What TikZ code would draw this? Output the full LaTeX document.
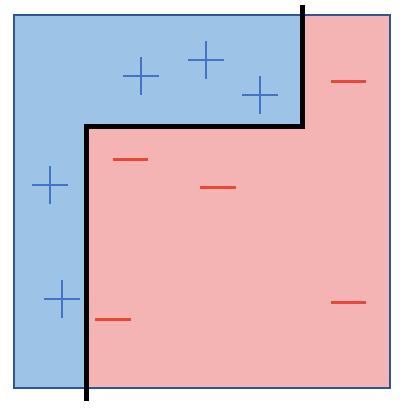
\documentclass[tikz,border=0pt]{standalone}
\usepackage{xcolor}

\definecolor{posfill}{HTML}{9DC3E6}
\definecolor{negfill}{HTML}{F4B4B4}
\definecolor{boxline}{HTML}{2F5597}
\definecolor{posmark}{HTML}{4472C4}
\definecolor{negmark}{HTML}{E8483A}

\tikzset{
	plusmark/.style={line width=2.4pt, color=posmark},
	minusmark/.style={line width=3pt, color=negmark},
	border/.style={line width=5pt, line join=miter}
}

\begin{document}
\begin{tikzpicture}[x=1pt, y=-1pt]
	\useasboundingbox (0, 0) rectangle (403, 408);

	% the two regions
	\fill[posfill] (14, 15) rectangle (390, 388);
	\fill[negfill] (302, 15) -- (390, 15) -- (390, 388) -- (86, 388) -- (86, 126) -- (302, 126) -- cycle;
	\draw[line width=2.6pt, color=boxline] (14, 15) rectangle (390, 388);

	% the decision border
	\coordinate (top) at (302, 5);
	\coordinate (c1) at (302, 126);
	\coordinate (c2) at (86, 126);
	\coordinate (bottom) at (86, 401);
	\draw[border] (top) -- (c1) -- (c2) -- (bottom);

	% positive points
	\draw[plusmark] (123, 76) -- (159, 76) (141, 57) -- (141, 95);
	\draw[plusmark] (188, 60) -- (224, 60) (206, 41) -- (206, 79);
	\draw[plusmark] (242, 95) -- (278, 95) (260, 76) -- (260, 114);
	\draw[plusmark] (32, 185) -- (68, 185) (50, 166) -- (50, 204);
	\draw[plusmark] (44, 299) -- (80, 299) (62, 280) -- (62, 318);

	% negative points
	\draw[minusmark] (331, 81) -- (366, 81);
	\draw[minusmark] (113, 159) -- (148, 159);
	\draw[minusmark] (200, 187) -- (236, 187);
	\draw[minusmark] (331, 302) -- (366, 302);
	\draw[minusmark] (95, 319) -- (131, 319);
\end{tikzpicture}
\end{document}
